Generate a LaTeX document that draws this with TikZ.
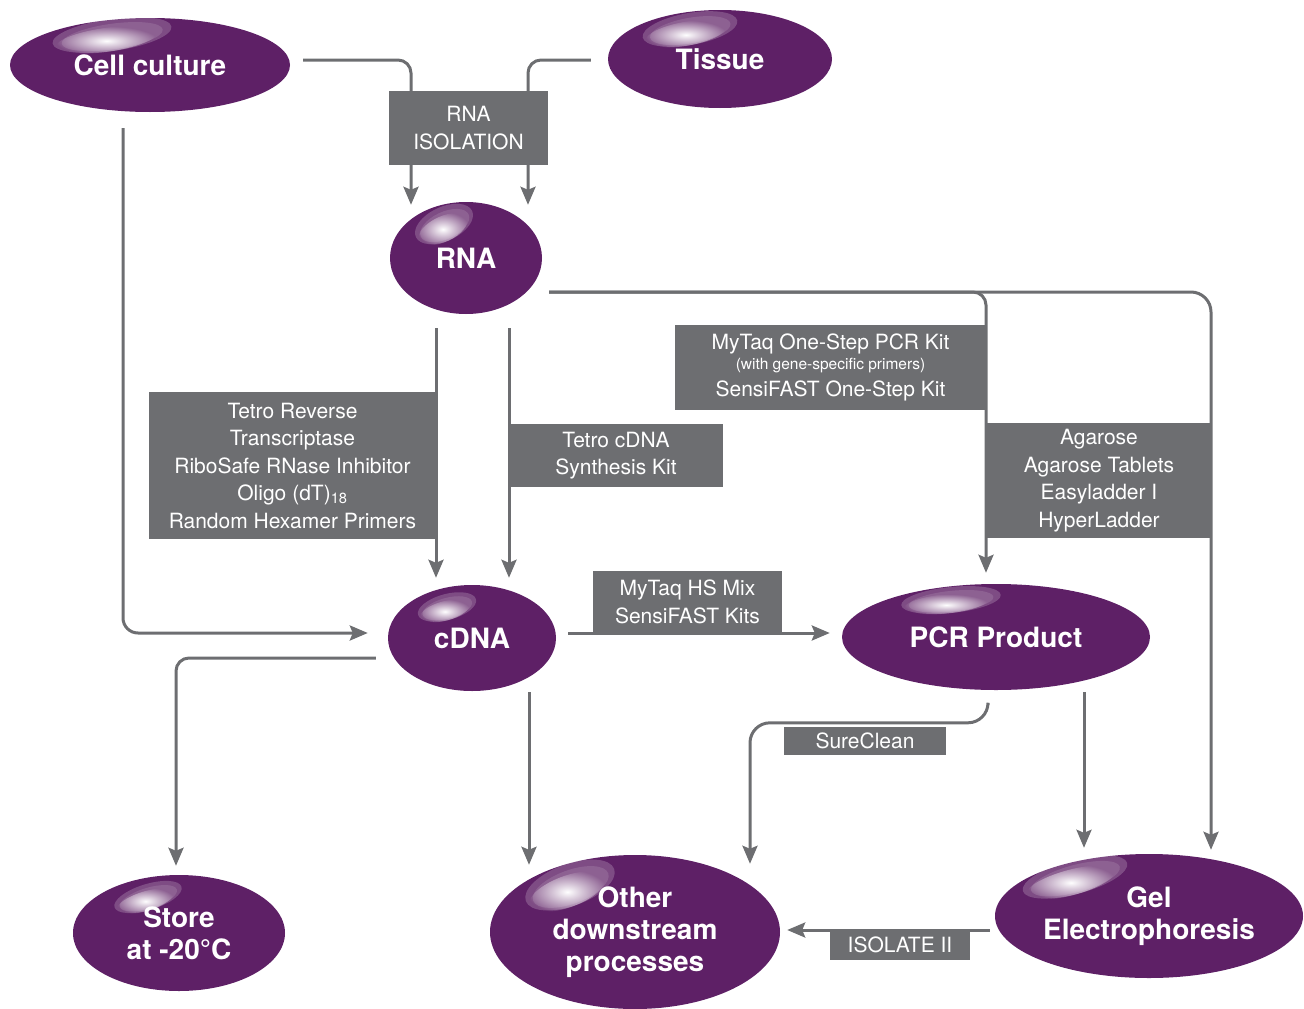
\documentclass[tikz,border=0pt]{standalone}
\usepackage{fontspec}
\setmainfont{TeX Gyre Heros}
\usetikzlibrary{calc,fadings,arrows.meta,shapes.geometric}
\definecolor{plum}{HTML}{5E2066}
\definecolor{graybox}{HTML}{6D6E71}
\tikzfading[name=hl, inner color=transparent!0, outer color=transparent!100]
\newcommand\myblob[6]{%
  \node[blob, minimum width={2*#4}, minimum height={2*#5}] (#1) at (#2,#3) {#6};}
\newcommand\gloss[5]{%
  \begin{scope}[shift={(#1,#2)}, rotate=#5]
    \fill[white, opacity=0.2] (0,0) ellipse [x radius=#3, y radius=#4];
    \fill[white, opacity=0.12] (0,{0.1*#4}) ellipse [x radius={0.85*#3}, y radius={0.8*#4}];
    \fill[white, path fading=hl] ({-0.1*#3},{0.25*#4}) ellipse [x radius={0.85*#3}, y radius={0.75*#4}];
  \end{scope}}
\begin{document}
\begin{tikzpicture}[x=1pt,y=-1pt,
  blob/.style={ellipse, fill=plum, inner sep=0pt, text=white,
    font=\fontsize{28}{32}\selectfont\bfseries, align=center},
  gbox/.style={rectangle, fill=graybox, inner sep=0pt, text=white,
    font=\fontsize{21}{27.5}\selectfont, align=center},
  conn/.style={draw=graybox, line width=3pt, rounded corners=13pt,
    -{Stealth[length=18pt,width=15pt,inset=3pt]}},
]
\useasboundingbox (0,0) rectangle (1304,1009);

% gray boxes
\node[gbox, minimum width=159pt, minimum height=74pt] (iso) at (468.5,128) {RNA\\ISOLATION};
\node[gbox, minimum width=287pt, minimum height=147pt] (tetro) at (292.5,465.5)
  {Tetro Reverse\\Transcriptase\\RiboSafe RNase Inhibitor\\Oligo (dT)\textsubscript{18}\\Random Hexamer Primers};
\node[gbox, minimum width=214pt, minimum height=63pt] (tcdna) at (616,455.5) {Tetro cDNA\\Synthesis Kit};
\node[gbox, minimum width=311pt, minimum height=85pt] (onestep) at (830.5,367.5)
  {MyTaq One-Step PCR Kit\\[-8pt]{\fontsize{15.5}{18}\selectfont (with gene-specific primers)}\\SensiFAST One-Step Kit};
\node[gbox, minimum width=226pt, minimum height=115pt] (agar) at (1099,480.5)
  {Agarose\\Agarose Tablets\\Easyladder I\\HyperLadder};
\node[gbox, minimum width=189pt, minimum height=62pt] (hsmix) at (687.5,602) {MyTaq HS Mix\\SensiFAST Kits};
\node[gbox, minimum width=162pt, minimum height=28pt] (sure) at (865,741) {SureClean};
\node[gbox, minimum width=140pt, minimum height=31pt] (isol) at (900,944.5) {ISOLATE II};

% ellipses with glossy highlights
\myblob{cell}{150}{65}{140}{47}{Cell culture}
\gloss{112}{35}{60}{16}{8}
\myblob{tissue}{720}{59}{112}{49}{Tissue}
\gloss{690}{29}{48}{16}{10}
\myblob{rna}{466}{258}{76}{56}{RNA}
\gloss{444}{224}{31}{17}{25}
\myblob{cdna}{472}{638}{84}{53}{cDNA}
\gloss{447}{607}{30}{13}{15}
\myblob{pcr}{996}{637}{154}{53}{PCR Product}
\gloss{951}{600}{50}{13}{6}
\myblob{store}{179}{933}{106}{58}{Store\\at -20°C}
\gloss{148}{897}{35}{13}{17}
\myblob{other}{635}{932}{145}{77}{Other\\downstream\\processes}
\gloss{570}{885}{47}{21}{20}
\myblob{gel}{1149}{916}{154}{62}{Gel\\Electrophoresis}
\gloss{1075}{877}{54}{17}{15}

% connectors
\draw[conn] ($(cell.east)+(13,-5)$) -| ($(rna.north)+(-55,3)$);
\draw[conn] ($(tissue.west)+(-17,1)$) -| ($(rna.north)+(62,3)$);
\draw[conn, rounded corners=15pt] ($(cell.south)+(-27,16)$) |- ($(cdna.west)+(-20,-5)$);
\draw[conn] ($(rna.south)+(-30,14)$) -- ($(cdna.north)+(-36,-7)$);
\draw[conn] ($(rna.south)+(43,14)$) -- ($(cdna.north)+(37,-7)$);
\draw[conn] ($(rna.east)+(7,34)$) -| ($(pcr.north)+(-10,-11)$);
\draw[conn, rounded corners=20pt] ($(rna.east)+(7,34)$) -| ($(gel.north)+(62,-4)$);
\draw[conn] ($(cdna.east)+(12,-5)$) -- ($(pcr.west)+(-12,-4)$);
\draw[conn] ($(cdna.west)+(-12,20)$) -| ($(store.north)+(-3,-9)$);
\draw[conn] ($(cdna.south)+(57,1)$) -- ($(other.north)+(-106,10)$);
\draw[conn, rounded corners=20pt] ($(pcr.south)+(-8,15)$) |- ($(other.north)+(115,-132)$) -- ($(other.north)+(115,9)$);
\draw[conn] ($(pcr.south)+(88,2)$) -- ($(gel.north)+(-65,-6)$);
\draw[conn] ($(gel.west)+(-5,14)$) -- ($(other.east)+(7,-2)$);
\end{tikzpicture}
\end{document}
